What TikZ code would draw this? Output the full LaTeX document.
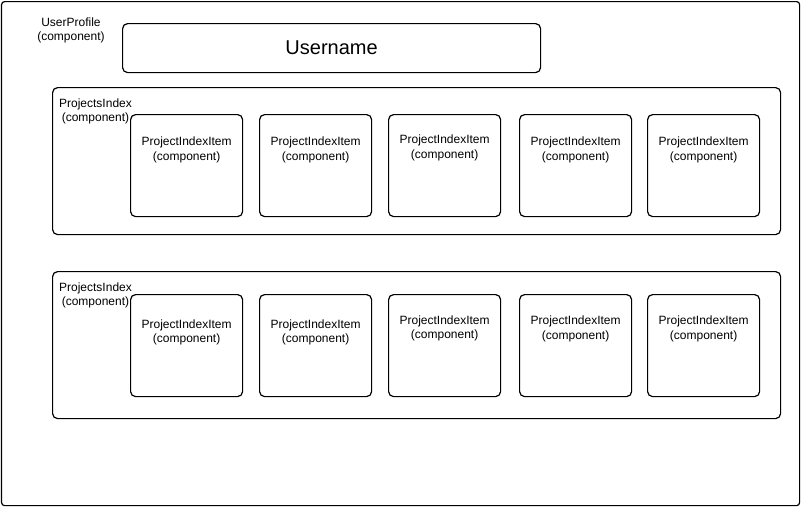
\documentclass[tikz,border=0pt]{standalone}
\usepackage{fontspec}
\setmainfont{Liberation Sans}
\begin{document}
\begin{tikzpicture}[x=1pt,y=-1pt,
  box/.style={draw=black, line width=1.2pt, rounded corners=#1, inner sep=0pt, anchor=north west},
  box/.default=5pt,
  lbl/.style={font=\fontsize{12}{14.5}\selectfont, align=center, inner sep=0pt},
  big/.style={font=\fontsize{20}{24}\selectfont, inner sep=0pt}]
\useasboundingbox (0,0) rectangle (801,507);
\fill[white] (0,0) rectangle (801,507);
% outer
\node[box=3pt, minimum width=798pt, minimum height=504pt] (outer) at (1,1) {};
\node[lbl] (uplbl) at (71,30.5) {UserProfile\\(component)};
\node[box, minimum width=418pt, minimum height=49pt] (user) at (122,23) {};
\node[big] (usertxt) at (user.center) {Username};
% rows
\foreach \r/\y/\t in {1/87/27, 2/271/23} {
  \node[box, minimum width=728pt, minimum height=147pt] (pi\r) at (52,\y) {};
  \node[lbl] (pil\r) at (95.5,\y+24.5) {ProjectsIndex\\(component)};
  \foreach \i/\x in {1/130, 2/259, 3/388, 4/519, 5/647} {
    \node[box, minimum width=112pt, minimum height=102pt] (it\r\i) at (\x,\y+\t) {};
  }
}
\foreach \r/\i/\dy in {1/1/36, 1/2/36, 1/3/34, 1/4/36, 1/5/36,
                       2/1/38.5, 2/2/38.5, 2/3/34.5, 2/4/35, 2/5/35} {
  \node[lbl] (itl\r\i) at ([yshift=-\dy pt]it\r\i.north) {ProjectIndexItem\\(component)};
}
\end{tikzpicture}
\end{document}
